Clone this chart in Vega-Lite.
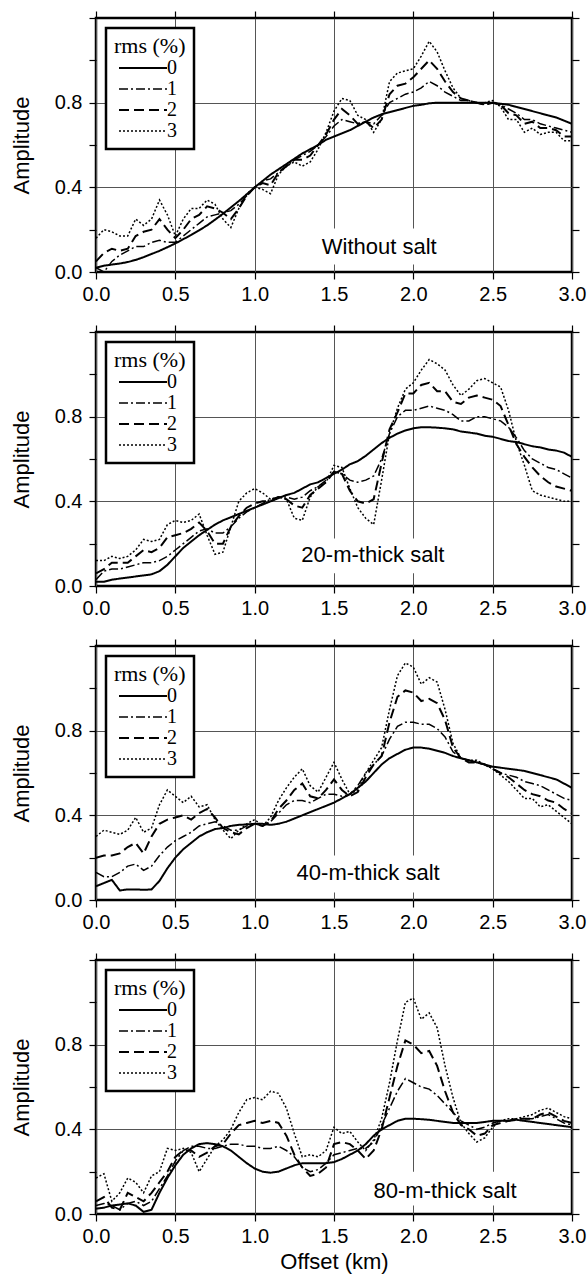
{
"$schema": "https://vega.github.io/schema/vega-lite/v6.json",
"padding": {"left": 8, "top": 6, "right": 0, "bottom": 2},
"background": "white",
"config": {
  "view": {"stroke": "black", "strokeWidth": 2.5},
  "font": "Liberation Sans",
  "axis": {"labelColor": "black", "titleColor": "black", "tickColor": "black", "labelFont": "Liberation Sans", "titleFont": "Liberation Sans", "titleFontWeight": "normal", "labelFontSize": 20, "titleFontSize": 22, "domain": false, "tickSize": 7, "tickWidth": 1.2},
  "legend": {"strokeColor": "black", "strokeWidth": 2.5, "fillColor": "white", "padding": 8, "titleFont": "Liberation Serif", "titleFontSize": 22, "titleFontWeight": "normal", "titleColor": "black", "labelFont": "Liberation Serif", "labelFontSize": 20, "labelColor": "black", "rowPadding": 1, "titlePadding": 0}
},
"data": {"values": [
{"p":"A","x":0,"r0":0.02,"r1":0.02,"r2":0.05,"r3":0.16},
{"p":"A","x":0.05,"r0":0.03,"r1":0.0,"r2":0.09,"r3":0.2},
{"p":"A","x":0.1,"r0":0.035,"r1":0.05,"r2":0.11,"r3":0.19},
{"p":"A","x":0.15,"r0":0.04,"r1":0.08,"r2":0.1,"r3":0.17},
{"p":"A","x":0.2,"r0":0.047,"r1":0.1,"r2":0.11,"r3":0.17},
{"p":"A","x":0.25,"r0":0.057,"r1":0.12,"r2":0.17,"r3":0.25},
{"p":"A","x":0.3,"r0":0.07,"r1":0.12,"r2":0.19,"r3":0.22},
{"p":"A","x":0.35,"r0":0.085,"r1":0.14,"r2":0.2,"r3":0.25},
{"p":"A","x":0.4,"r0":0.1,"r1":0.15,"r2":0.25,"r3":0.34},
{"p":"A","x":0.45,"r0":0.117,"r1":0.14,"r2":0.2,"r3":0.27},
{"p":"A","x":0.5,"r0":0.135,"r1":0.14,"r2":0.16,"r3":0.17},
{"p":"A","x":0.55,"r0":0.155,"r1":0.17,"r2":0.2,"r3":0.25},
{"p":"A","x":0.6,"r0":0.175,"r1":0.2,"r2":0.25,"r3":0.3},
{"p":"A","x":0.65,"r0":0.197,"r1":0.23,"r2":0.27,"r3":0.3},
{"p":"A","x":0.7,"r0":0.22,"r1":0.26,"r2":0.31,"r3":0.34},
{"p":"A","x":0.75,"r0":0.247,"r1":0.27,"r2":0.3,"r3":0.32},
{"p":"A","x":0.8,"r0":0.275,"r1":0.28,"r2":0.28,"r3":0.25},
{"p":"A","x":0.85,"r0":0.305,"r1":0.29,"r2":0.25,"r3":0.21},
{"p":"A","x":0.9,"r0":0.335,"r1":0.32,"r2":0.3,"r3":0.3},
{"p":"A","x":0.95,"r0":0.367,"r1":0.36,"r2":0.36,"r3":0.37},
{"p":"A","x":1.0,"r0":0.4,"r1":0.4,"r2":0.4,"r3":0.4},
{"p":"A","x":1.05,"r0":0.43,"r1":0.43,"r2":0.42,"r3":0.39},
{"p":"A","x":1.1,"r0":0.46,"r1":0.44,"r2":0.41,"r3":0.37},
{"p":"A","x":1.15,"r0":0.485,"r1":0.47,"r2":0.47,"r3":0.46},
{"p":"A","x":1.2,"r0":0.51,"r1":0.5,"r2":0.5,"r3":0.5},
{"p":"A","x":1.25,"r0":0.535,"r1":0.53,"r2":0.53,"r3":0.52},
{"p":"A","x":1.3,"r0":0.56,"r1":0.55,"r2":0.53,"r3":0.5},
{"p":"A","x":1.35,"r0":0.58,"r1":0.57,"r2":0.55,"r3":0.52},
{"p":"A","x":1.4,"r0":0.6,"r1":0.6,"r2":0.6,"r3":0.58},
{"p":"A","x":1.45,"r0":0.625,"r1":0.64,"r2":0.65,"r3":0.66},
{"p":"A","x":1.5,"r0":0.64,"r1":0.69,"r2":0.72,"r3":0.76},
{"p":"A","x":1.55,"r0":0.655,"r1":0.72,"r2":0.77,"r3":0.82},
{"p":"A","x":1.6,"r0":0.67,"r1":0.71,"r2":0.74,"r3":0.81},
{"p":"A","x":1.65,"r0":0.69,"r1":0.7,"r2":0.7,"r3":0.74},
{"p":"A","x":1.7,"r0":0.71,"r1":0.71,"r2":0.71,"r3":0.72},
{"p":"A","x":1.75,"r0":0.73,"r1":0.7,"r2":0.68,"r3":0.66},
{"p":"A","x":1.8,"r0":0.745,"r1":0.74,"r2":0.72,"r3":0.72},
{"p":"A","x":1.85,"r0":0.755,"r1":0.8,"r2":0.84,"r3":0.9},
{"p":"A","x":1.9,"r0":0.765,"r1":0.82,"r2":0.88,"r3":0.94},
{"p":"A","x":1.95,"r0":0.775,"r1":0.84,"r2":0.89,"r3":0.95},
{"p":"A","x":2.0,"r0":0.785,"r1":0.85,"r2":0.92,"r3":0.96},
{"p":"A","x":2.05,"r0":0.79,"r1":0.87,"r2":0.96,"r3":1.02},
{"p":"A","x":2.1,"r0":0.797,"r1":0.9,"r2":1.0,"r3":1.09},
{"p":"A","x":2.15,"r0":0.8,"r1":0.88,"r2":0.96,"r3":1.04},
{"p":"A","x":2.2,"r0":0.8,"r1":0.85,"r2":0.9,"r3":0.95},
{"p":"A","x":2.25,"r0":0.8,"r1":0.83,"r2":0.85,"r3":0.87},
{"p":"A","x":2.3,"r0":0.8,"r1":0.81,"r2":0.82,"r3":0.82},
{"p":"A","x":2.35,"r0":0.8,"r1":0.81,"r2":0.81,"r3":0.81},
{"p":"A","x":2.4,"r0":0.8,"r1":0.8,"r2":0.8,"r3":0.8},
{"p":"A","x":2.45,"r0":0.8,"r1":0.79,"r2":0.79,"r3":0.8},
{"p":"A","x":2.5,"r0":0.8,"r1":0.8,"r2":0.8,"r3":0.81},
{"p":"A","x":2.55,"r0":0.795,"r1":0.79,"r2":0.79,"r3":0.78},
{"p":"A","x":2.6,"r0":0.79,"r1":0.77,"r2":0.75,"r3":0.72},
{"p":"A","x":2.65,"r0":0.78,"r1":0.75,"r2":0.74,"r3":0.72},
{"p":"A","x":2.7,"r0":0.77,"r1":0.72,"r2":0.7,"r3":0.66},
{"p":"A","x":2.75,"r0":0.76,"r1":0.72,"r2":0.71,"r3":0.68},
{"p":"A","x":2.8,"r0":0.75,"r1":0.7,"r2":0.68,"r3":0.65},
{"p":"A","x":2.85,"r0":0.74,"r1":0.69,"r2":0.68,"r3":0.66},
{"p":"A","x":2.9,"r0":0.73,"r1":0.68,"r2":0.67,"r3":0.66},
{"p":"A","x":2.95,"r0":0.715,"r1":0.67,"r2":0.64,"r3":0.62},
{"p":"A","x":3.0,"r0":0.7,"r1":0.66,"r2":0.64,"r3":0.62},
{"p":"B","x":0,"r0":0.02,"r1":0.03,"r2":0.06,"r3":0.12},
{"p":"B","x":0.05,"r0":0.02,"r1":0.07,"r2":0.08,"r3":0.12},
{"p":"B","x":0.1,"r0":0.03,"r1":0.08,"r2":0.11,"r3":0.14},
{"p":"B","x":0.15,"r0":0.035,"r1":0.08,"r2":0.11,"r3":0.13},
{"p":"B","x":0.2,"r0":0.04,"r1":0.09,"r2":0.11,"r3":0.14},
{"p":"B","x":0.25,"r0":0.045,"r1":0.1,"r2":0.14,"r3":0.17},
{"p":"B","x":0.3,"r0":0.05,"r1":0.11,"r2":0.17,"r3":0.22},
{"p":"B","x":0.35,"r0":0.055,"r1":0.11,"r2":0.16,"r3":0.21},
{"p":"B","x":0.4,"r0":0.07,"r1":0.12,"r2":0.18,"r3":0.22},
{"p":"B","x":0.45,"r0":0.1,"r1":0.14,"r2":0.23,"r3":0.29},
{"p":"B","x":0.5,"r0":0.14,"r1":0.17,"r2":0.24,"r3":0.31},
{"p":"B","x":0.55,"r0":0.18,"r1":0.2,"r2":0.25,"r3":0.3},
{"p":"B","x":0.6,"r0":0.21,"r1":0.23,"r2":0.27,"r3":0.31},
{"p":"B","x":0.65,"r0":0.24,"r1":0.26,"r2":0.3,"r3":0.34},
{"p":"B","x":0.7,"r0":0.265,"r1":0.27,"r2":0.26,"r3":0.24},
{"p":"B","x":0.75,"r0":0.29,"r1":0.25,"r2":0.2,"r3":0.15},
{"p":"B","x":0.8,"r0":0.31,"r1":0.25,"r2":0.2,"r3":0.16},
{"p":"B","x":0.85,"r0":0.325,"r1":0.28,"r2":0.28,"r3":0.28},
{"p":"B","x":0.9,"r0":0.34,"r1":0.32,"r2":0.33,"r3":0.4},
{"p":"B","x":0.95,"r0":0.355,"r1":0.35,"r2":0.37,"r3":0.44},
{"p":"B","x":1.0,"r0":0.37,"r1":0.37,"r2":0.39,"r3":0.46},
{"p":"B","x":1.05,"r0":0.385,"r1":0.39,"r2":0.4,"r3":0.44},
{"p":"B","x":1.1,"r0":0.4,"r1":0.41,"r2":0.4,"r3":0.41},
{"p":"B","x":1.15,"r0":0.415,"r1":0.42,"r2":0.42,"r3":0.42},
{"p":"B","x":1.2,"r0":0.43,"r1":0.42,"r2":0.41,"r3":0.41},
{"p":"B","x":1.25,"r0":0.44,"r1":0.41,"r2":0.38,"r3":0.32},
{"p":"B","x":1.3,"r0":0.46,"r1":0.42,"r2":0.37,"r3":0.31},
{"p":"B","x":1.35,"r0":0.48,"r1":0.45,"r2":0.43,"r3":0.42},
{"p":"B","x":1.4,"r0":0.49,"r1":0.47,"r2":0.46,"r3":0.47},
{"p":"B","x":1.45,"r0":0.51,"r1":0.5,"r2":0.49,"r3":0.49},
{"p":"B","x":1.5,"r0":0.53,"r1":0.54,"r2":0.54,"r3":0.57},
{"p":"B","x":1.55,"r0":0.55,"r1":0.53,"r2":0.53,"r3":0.56},
{"p":"B","x":1.6,"r0":0.575,"r1":0.5,"r2":0.45,"r3":0.46},
{"p":"B","x":1.65,"r0":0.59,"r1":0.49,"r2":0.4,"r3":0.37},
{"p":"B","x":1.7,"r0":0.615,"r1":0.5,"r2":0.39,"r3":0.32},
{"p":"B","x":1.75,"r0":0.645,"r1":0.52,"r2":0.41,"r3":0.29},
{"p":"B","x":1.8,"r0":0.675,"r1":0.6,"r2":0.58,"r3":0.5},
{"p":"B","x":1.85,"r0":0.7,"r1":0.72,"r2":0.74,"r3":0.72},
{"p":"B","x":1.9,"r0":0.72,"r1":0.8,"r2":0.82,"r3":0.84},
{"p":"B","x":1.95,"r0":0.735,"r1":0.83,"r2":0.91,"r3":0.93},
{"p":"B","x":2.0,"r0":0.745,"r1":0.83,"r2":0.91,"r3":0.96},
{"p":"B","x":2.05,"r0":0.75,"r1":0.84,"r2":0.95,"r3":1.02},
{"p":"B","x":2.1,"r0":0.75,"r1":0.85,"r2":0.96,"r3":1.07},
{"p":"B","x":2.15,"r0":0.748,"r1":0.84,"r2":0.92,"r3":1.05},
{"p":"B","x":2.2,"r0":0.745,"r1":0.83,"r2":0.92,"r3":1.02},
{"p":"B","x":2.25,"r0":0.74,"r1":0.81,"r2":0.87,"r3":0.95},
{"p":"B","x":2.3,"r0":0.73,"r1":0.78,"r2":0.86,"r3":0.9},
{"p":"B","x":2.35,"r0":0.725,"r1":0.78,"r2":0.89,"r3":0.93},
{"p":"B","x":2.4,"r0":0.72,"r1":0.8,"r2":0.9,"r3":0.97},
{"p":"B","x":2.45,"r0":0.71,"r1":0.8,"r2":0.89,"r3":0.98},
{"p":"B","x":2.5,"r0":0.705,"r1":0.79,"r2":0.88,"r3":0.96},
{"p":"B","x":2.55,"r0":0.695,"r1":0.78,"r2":0.85,"r3":0.94},
{"p":"B","x":2.6,"r0":0.685,"r1":0.75,"r2":0.76,"r3":0.83},
{"p":"B","x":2.65,"r0":0.68,"r1":0.7,"r2":0.67,"r3":0.68},
{"p":"B","x":2.7,"r0":0.67,"r1":0.64,"r2":0.61,"r3":0.57},
{"p":"B","x":2.75,"r0":0.66,"r1":0.6,"r2":0.56,"r3":0.45},
{"p":"B","x":2.8,"r0":0.655,"r1":0.58,"r2":0.52,"r3":0.43},
{"p":"B","x":2.85,"r0":0.645,"r1":0.56,"r2":0.49,"r3":0.42},
{"p":"B","x":2.9,"r0":0.64,"r1":0.55,"r2":0.47,"r3":0.41},
{"p":"B","x":2.95,"r0":0.63,"r1":0.53,"r2":0.46,"r3":0.4},
{"p":"B","x":3.0,"r0":0.61,"r1":0.51,"r2":0.45,"r3":0.4},
{"p":"C","x":0,"r0":0.065,"r1":0.13,"r2":0.2,"r3":0.3},
{"p":"C","x":0.05,"r0":0.08,"r1":0.11,"r2":0.21,"r3":0.33},
{"p":"C","x":0.1,"r0":0.095,"r1":0.11,"r2":0.21,"r3":0.32},
{"p":"C","x":0.15,"r0":0.045,"r1":0.13,"r2":0.22,"r3":0.31},
{"p":"C","x":0.2,"r0":0.05,"r1":0.16,"r2":0.25,"r3":0.33},
{"p":"C","x":0.25,"r0":0.05,"r1":0.17,"r2":0.27,"r3":0.39},
{"p":"C","x":0.3,"r0":0.048,"r1":0.14,"r2":0.22,"r3":0.32},
{"p":"C","x":0.35,"r0":0.05,"r1":0.16,"r2":0.3,"r3":0.34},
{"p":"C","x":0.4,"r0":0.09,"r1":0.21,"r2":0.36,"r3":0.45},
{"p":"C","x":0.45,"r0":0.15,"r1":0.25,"r2":0.38,"r3":0.52},
{"p":"C","x":0.5,"r0":0.2,"r1":0.28,"r2":0.39,"r3":0.49},
{"p":"C","x":0.55,"r0":0.24,"r1":0.3,"r2":0.4,"r3":0.46},
{"p":"C","x":0.6,"r0":0.27,"r1":0.32,"r2":0.38,"r3":0.49},
{"p":"C","x":0.65,"r0":0.3,"r1":0.35,"r2":0.41,"r3":0.44},
{"p":"C","x":0.7,"r0":0.32,"r1":0.36,"r2":0.43,"r3":0.45},
{"p":"C","x":0.75,"r0":0.335,"r1":0.37,"r2":0.39,"r3":0.38},
{"p":"C","x":0.8,"r0":0.34,"r1":0.35,"r2":0.34,"r3":0.33},
{"p":"C","x":0.85,"r0":0.35,"r1":0.33,"r2":0.32,"r3":0.29},
{"p":"C","x":0.9,"r0":0.355,"r1":0.33,"r2":0.31,"r3":0.33},
{"p":"C","x":0.95,"r0":0.357,"r1":0.35,"r2":0.34,"r3":0.36},
{"p":"C","x":1.0,"r0":0.36,"r1":0.36,"r2":0.36,"r3":0.38},
{"p":"C","x":1.05,"r0":0.36,"r1":0.35,"r2":0.35,"r3":0.35},
{"p":"C","x":1.1,"r0":0.355,"r1":0.37,"r2":0.37,"r3":0.39},
{"p":"C","x":1.15,"r0":0.36,"r1":0.41,"r2":0.43,"r3":0.47},
{"p":"C","x":1.2,"r0":0.37,"r1":0.45,"r2":0.47,"r3":0.53},
{"p":"C","x":1.25,"r0":0.385,"r1":0.47,"r2":0.52,"r3":0.58},
{"p":"C","x":1.3,"r0":0.4,"r1":0.47,"r2":0.55,"r3":0.62},
{"p":"C","x":1.35,"r0":0.415,"r1":0.46,"r2":0.49,"r3":0.54},
{"p":"C","x":1.4,"r0":0.43,"r1":0.48,"r2":0.48,"r3":0.51},
{"p":"C","x":1.45,"r0":0.445,"r1":0.5,"r2":0.52,"r3":0.58},
{"p":"C","x":1.5,"r0":0.46,"r1":0.5,"r2":0.57,"r3":0.65},
{"p":"C","x":1.55,"r0":0.48,"r1":0.49,"r2":0.52,"r3":0.57},
{"p":"C","x":1.6,"r0":0.5,"r1":0.5,"r2":0.49,"r3":0.5},
{"p":"C","x":1.65,"r0":0.53,"r1":0.54,"r2":0.51,"r3":0.52},
{"p":"C","x":1.7,"r0":0.56,"r1":0.6,"r2":0.58,"r3":0.6},
{"p":"C","x":1.75,"r0":0.6,"r1":0.64,"r2":0.64,"r3":0.66},
{"p":"C","x":1.8,"r0":0.64,"r1":0.68,"r2":0.68,"r3":0.72},
{"p":"C","x":1.85,"r0":0.67,"r1":0.76,"r2":0.84,"r3":0.9},
{"p":"C","x":1.9,"r0":0.69,"r1":0.82,"r2":0.96,"r3":1.06},
{"p":"C","x":1.95,"r0":0.71,"r1":0.84,"r2":0.99,"r3":1.12},
{"p":"C","x":2.0,"r0":0.72,"r1":0.84,"r2":0.98,"r3":1.1},
{"p":"C","x":2.05,"r0":0.72,"r1":0.83,"r2":0.94,"r3":1.02},
{"p":"C","x":2.1,"r0":0.715,"r1":0.83,"r2":0.95,"r3":1.05},
{"p":"C","x":2.15,"r0":0.705,"r1":0.81,"r2":0.93,"r3":1.03},
{"p":"C","x":2.2,"r0":0.695,"r1":0.77,"r2":0.85,"r3":0.9},
{"p":"C","x":2.25,"r0":0.68,"r1":0.7,"r2":0.72,"r3":0.74},
{"p":"C","x":2.3,"r0":0.67,"r1":0.67,"r2":0.67,"r3":0.67},
{"p":"C","x":2.35,"r0":0.66,"r1":0.66,"r2":0.65,"r3":0.66},
{"p":"C","x":2.4,"r0":0.65,"r1":0.65,"r2":0.65,"r3":0.66},
{"p":"C","x":2.45,"r0":0.64,"r1":0.64,"r2":0.64,"r3":0.64},
{"p":"C","x":2.5,"r0":0.63,"r1":0.62,"r2":0.62,"r3":0.62},
{"p":"C","x":2.55,"r0":0.625,"r1":0.6,"r2":0.6,"r3":0.59},
{"p":"C","x":2.6,"r0":0.62,"r1":0.59,"r2":0.58,"r3":0.56},
{"p":"C","x":2.65,"r0":0.615,"r1":0.58,"r2":0.55,"r3":0.52},
{"p":"C","x":2.7,"r0":0.61,"r1":0.56,"r2":0.52,"r3":0.48},
{"p":"C","x":2.75,"r0":0.6,"r1":0.55,"r2":0.5,"r3":0.48},
{"p":"C","x":2.8,"r0":0.59,"r1":0.54,"r2":0.49,"r3":0.44},
{"p":"C","x":2.85,"r0":0.58,"r1":0.52,"r2":0.47,"r3":0.45},
{"p":"C","x":2.9,"r0":0.57,"r1":0.5,"r2":0.46,"r3":0.42},
{"p":"C","x":2.95,"r0":0.55,"r1":0.48,"r2":0.43,"r3":0.39},
{"p":"C","x":3.0,"r0":0.53,"r1":0.47,"r2":0.41,"r3":0.36},
{"p":"D","x":0,"r0":0.025,"r1":0.04,"r2":0.06,"r3":0.17},
{"p":"D","x":0.05,"r0":0.03,"r1":0.05,"r2":0.08,"r3":0.19},
{"p":"D","x":0.1,"r0":0.04,"r1":0.04,"r2":0.03,"r3":0.06},
{"p":"D","x":0.15,"r0":0.045,"r1":0.02,"r2":0.02,"r3":0.1},
{"p":"D","x":0.2,"r0":0.05,"r1":0.05,"r2":0.1,"r3":0.17},
{"p":"D","x":0.25,"r0":0.04,"r1":0.06,"r2":0.08,"r3":0.15},
{"p":"D","x":0.3,"r0":0.01,"r1":0.04,"r2":0.06,"r3":0.1},
{"p":"D","x":0.35,"r0":0.02,"r1":0.06,"r2":0.1,"r3":0.18},
{"p":"D","x":0.4,"r0":0.1,"r1":0.12,"r2":0.15,"r3":0.2},
{"p":"D","x":0.45,"r0":0.17,"r1":0.18,"r2":0.2,"r3":0.31},
{"p":"D","x":0.5,"r0":0.23,"r1":0.25,"r2":0.27,"r3":0.3},
{"p":"D","x":0.55,"r0":0.28,"r1":0.3,"r2":0.3,"r3":0.31},
{"p":"D","x":0.6,"r0":0.31,"r1":0.32,"r2":0.3,"r3":0.29},
{"p":"D","x":0.65,"r0":0.33,"r1":0.32,"r2":0.27,"r3":0.2},
{"p":"D","x":0.7,"r0":0.335,"r1":0.31,"r2":0.29,"r3":0.26},
{"p":"D","x":0.75,"r0":0.33,"r1":0.31,"r2":0.32,"r3":0.32},
{"p":"D","x":0.8,"r0":0.32,"r1":0.32,"r2":0.33,"r3":0.35},
{"p":"D","x":0.85,"r0":0.3,"r1":0.33,"r2":0.38,"r3":0.4},
{"p":"D","x":0.9,"r0":0.27,"r1":0.33,"r2":0.42,"r3":0.48},
{"p":"D","x":0.95,"r0":0.24,"r1":0.32,"r2":0.43,"r3":0.54},
{"p":"D","x":1.0,"r0":0.215,"r1":0.32,"r2":0.44,"r3":0.55},
{"p":"D","x":1.05,"r0":0.2,"r1":0.31,"r2":0.43,"r3":0.54},
{"p":"D","x":1.1,"r0":0.195,"r1":0.31,"r2":0.44,"r3":0.58},
{"p":"D","x":1.15,"r0":0.2,"r1":0.32,"r2":0.43,"r3":0.57},
{"p":"D","x":1.2,"r0":0.215,"r1":0.3,"r2":0.37,"r3":0.5},
{"p":"D","x":1.25,"r0":0.23,"r1":0.27,"r2":0.28,"r3":0.38},
{"p":"D","x":1.3,"r0":0.24,"r1":0.22,"r2":0.22,"r3":0.27},
{"p":"D","x":1.35,"r0":0.24,"r1":0.2,"r2":0.18,"r3":0.28},
{"p":"D","x":1.4,"r0":0.24,"r1":0.21,"r2":0.19,"r3":0.27},
{"p":"D","x":1.45,"r0":0.24,"r1":0.24,"r2":0.22,"r3":0.3},
{"p":"D","x":1.5,"r0":0.245,"r1":0.28,"r2":0.33,"r3":0.41},
{"p":"D","x":1.55,"r0":0.26,"r1":0.29,"r2":0.34,"r3":0.38},
{"p":"D","x":1.6,"r0":0.28,"r1":0.3,"r2":0.33,"r3":0.39},
{"p":"D","x":1.65,"r0":0.3,"r1":0.31,"r2":0.3,"r3":0.34},
{"p":"D","x":1.7,"r0":0.33,"r1":0.31,"r2":0.26,"r3":0.3},
{"p":"D","x":1.75,"r0":0.37,"r1":0.34,"r2":0.3,"r3":0.35},
{"p":"D","x":1.8,"r0":0.4,"r1":0.42,"r2":0.4,"r3":0.45},
{"p":"D","x":1.85,"r0":0.42,"r1":0.5,"r2":0.55,"r3":0.62},
{"p":"D","x":1.9,"r0":0.44,"r1":0.58,"r2":0.7,"r3":0.82},
{"p":"D","x":1.95,"r0":0.45,"r1":0.64,"r2":0.82,"r3":1.0},
{"p":"D","x":2.0,"r0":0.45,"r1":0.62,"r2":0.8,"r3":1.02},
{"p":"D","x":2.05,"r0":0.448,"r1":0.6,"r2":0.76,"r3":0.92},
{"p":"D","x":2.1,"r0":0.445,"r1":0.59,"r2":0.77,"r3":0.95},
{"p":"D","x":2.15,"r0":0.44,"r1":0.56,"r2":0.7,"r3":0.88},
{"p":"D","x":2.2,"r0":0.435,"r1":0.52,"r2":0.58,"r3":0.7},
{"p":"D","x":2.25,"r0":0.43,"r1":0.48,"r2":0.48,"r3":0.55},
{"p":"D","x":2.3,"r0":0.43,"r1":0.44,"r2":0.42,"r3":0.43},
{"p":"D","x":2.35,"r0":0.43,"r1":0.42,"r2":0.4,"r3":0.38},
{"p":"D","x":2.4,"r0":0.43,"r1":0.4,"r2":0.37,"r3":0.34},
{"p":"D","x":2.45,"r0":0.435,"r1":0.41,"r2":0.38,"r3":0.36},
{"p":"D","x":2.5,"r0":0.44,"r1":0.43,"r2":0.42,"r3":0.41},
{"p":"D","x":2.55,"r0":0.44,"r1":0.44,"r2":0.43,"r3":0.44},
{"p":"D","x":2.6,"r0":0.44,"r1":0.44,"r2":0.44,"r3":0.45},
{"p":"D","x":2.65,"r0":0.445,"r1":0.45,"r2":0.45,"r3":0.45},
{"p":"D","x":2.7,"r0":0.44,"r1":0.45,"r2":0.45,"r3":0.46},
{"p":"D","x":2.75,"r0":0.435,"r1":0.45,"r2":0.45,"r3":0.47},
{"p":"D","x":2.8,"r0":0.43,"r1":0.46,"r2":0.47,"r3":0.49},
{"p":"D","x":2.85,"r0":0.425,"r1":0.47,"r2":0.48,"r3":0.5},
{"p":"D","x":2.9,"r0":0.42,"r1":0.45,"r2":0.46,"r3":0.48},
{"p":"D","x":2.95,"r0":0.415,"r1":0.43,"r2":0.44,"r3":0.46},
{"p":"D","x":3.0,"r0":0.41,"r1":0.42,"r2":0.43,"r3":0.45}
]},
"spacing": 60,
"bounds": "flush",
"resolve": {"scale": {"strokeDash": "independent", "strokeWidth": "independent"}, "legend": {"strokeDash": "independent", "strokeWidth": "independent"}},
"vconcat": [
 {"width": 476, "height": 254,
  "layer": [
   {"data": {"values": [{"box": "label background"}]},
    "mark": {"type": "rect", "fill": "white", "stroke": null},
    "encoding": {"x": {"datum": 1.37, "type": "quantitative", "axis": null}, "x2": {"datum": 2.2}, "y": {"datum": 0.035, "type": "quantitative", "axis": null}, "y2": {"datum": 0.205}}},
   {"transform": [{"filter": "datum.p == 'A'"}, {"fold": ["r0","r1","r2","r3"], "as": ["rms","amp"]}],
    "mark": {"type": "line", "color": "black", "clip": true},
    "encoding": {
     "x": {"field": "x", "type": "quantitative", "scale": {"domain": [0,3], "nice": false}, "axis": {"orient": "bottom", "values": [0,0.5,1,1.5,2,2.5,3], "format": ".1f", "grid": true, "gridColor": "#555", "gridWidth": 1, "labelPadding": 5, "labelFlush": false, "labelOverlap": false, "title": null}},
     "y": {"field": "amp", "type": "quantitative", "scale": {"domain": [0,1.2], "nice": false}, "axis": {"orient": "left", "values": [0,0.2,0.4,0.6,0.8,1,1.2], "labelExpr": "datum.value == 0 || datum.value == 0.4 || datum.value == 0.8 ? format(datum.value, '.1f') : ''", "grid": true, "gridColor": "#555", "gridOpacity": {"condition": {"test": "datum.value == 0.4 || datum.value == 0.8", "value": 1}, "value": 0}, "labelPadding": 7, "labelFlush": false, "labelOverlap": false, "title": "Amplitude", "titlePadding": 21}},
     "strokeDash": {"field": "rms", "type": "nominal", "scale": {"domain": ["r0","r1","r2","r3"], "range": [[1,0],[9,3,2,3],[10,5],[2,2]]}, "legend": {"title": "rms (%)", "orient": "top-left", "offset": 10, "labelExpr": "replace(datum.label, 'r', '')", "symbolType": "M-4,0H4", "symbolSize": 144, "symbolOffset": 19, "labelOffset": 14, "symbolStrokeColor": "black"}},
     "strokeWidth": {"field": "rms", "type": "nominal", "scale": {"type": "ordinal", "domain": ["r0","r1","r2","r3"], "range": [2,1.5,2,1.5]}, "legend": {"title": "rms (%)", "orient": "top-left", "offset": 10, "labelExpr": "replace(datum.label, 'r', '')", "symbolType": "M-4,0H4", "symbolSize": 144, "symbolOffset": 19, "labelOffset": 14, "symbolStrokeColor": "black"}}
    }},
   {"data": {"values": [{"label": "Without salt"}]},
    "mark": {"type": "text", "fontSize": 22, "align": "center", "baseline": "alphabetic", "color": "black"},
    "encoding": {
     "x": {"datum": 1.785, "type": "quantitative", "axis": {"orient": "top", "values": [0,0.5,1,1.5,2,2.5,3], "labels": false, "grid": false, "title": null}},
     "y": {"datum": 0.087, "type": "quantitative", "axis": {"orient": "right", "values": [0,0.2,0.4,0.6,0.8,1,1.2], "labels": false, "grid": false, "title": null}},
     "text": {"field": "label"}}}
  ],
  "resolve": {"axis": {"x": "independent", "y": "independent"}}
 },
 {"width": 476, "height": 254,
  "layer": [
   {"data": {"values": [{"box": "label background"}]},
    "mark": {"type": "rect", "fill": "white", "stroke": null},
    "encoding": {"x": {"datum": 1.27, "type": "quantitative", "axis": null}, "x2": {"datum": 2.22}, "y": {"datum": 0.06, "type": "quantitative", "axis": null}, "y2": {"datum": 0.225}}},
   {"transform": [{"filter": "datum.p == 'B'"}, {"fold": ["r0","r1","r2","r3"], "as": ["rms","amp"]}],
    "mark": {"type": "line", "color": "black", "clip": true},
    "encoding": {
     "x": {"field": "x", "type": "quantitative", "scale": {"domain": [0,3], "nice": false}, "axis": {"orient": "bottom", "values": [0,0.5,1,1.5,2,2.5,3], "format": ".1f", "grid": true, "gridColor": "#555", "gridWidth": 1, "labelPadding": 5, "labelFlush": false, "labelOverlap": false, "title": null}},
     "y": {"field": "amp", "type": "quantitative", "scale": {"domain": [0,1.2], "nice": false}, "axis": {"orient": "left", "values": [0,0.2,0.4,0.6,0.8,1,1.2], "labelExpr": "datum.value == 0 || datum.value == 0.4 || datum.value == 0.8 ? format(datum.value, '.1f') : ''", "grid": true, "gridColor": "#555", "gridOpacity": {"condition": {"test": "datum.value == 0.4 || datum.value == 0.8", "value": 1}, "value": 0}, "labelPadding": 7, "labelFlush": false, "labelOverlap": false, "title": "Amplitude", "titlePadding": 21}},
     "strokeDash": {"field": "rms", "type": "nominal", "scale": {"domain": ["r0","r1","r2","r3"], "range": [[1,0],[9,3,2,3],[10,5],[2,2]]}, "legend": {"title": "rms (%)", "orient": "top-left", "offset": 10, "labelExpr": "replace(datum.label, 'r', '')", "symbolType": "M-4,0H4", "symbolSize": 144, "symbolOffset": 19, "labelOffset": 14, "symbolStrokeColor": "black"}},
     "strokeWidth": {"field": "rms", "type": "nominal", "scale": {"type": "ordinal", "domain": ["r0","r1","r2","r3"], "range": [2,1.5,2,1.5]}, "legend": {"title": "rms (%)", "orient": "top-left", "offset": 10, "labelExpr": "replace(datum.label, 'r', '')", "symbolType": "M-4,0H4", "symbolSize": 144, "symbolOffset": 19, "labelOffset": 14, "symbolStrokeColor": "black"}}
    }},
   {"data": {"values": [{"label": "20-m-thick salt"}]},
    "mark": {"type": "text", "fontSize": 22, "align": "center", "baseline": "alphabetic", "color": "black"},
    "encoding": {
     "x": {"datum": 1.745, "type": "quantitative", "axis": {"orient": "top", "values": [0,0.5,1,1.5,2,2.5,3], "labels": false, "grid": false, "title": null}},
     "y": {"datum": 0.112, "type": "quantitative", "axis": {"orient": "right", "values": [0,0.2,0.4,0.6,0.8,1,1.2], "labels": false, "grid": false, "title": null}},
     "text": {"field": "label"}}}
  ],
  "resolve": {"axis": {"x": "independent", "y": "independent"}}
 },
 {"width": 476, "height": 254,
  "layer": [
   {"data": {"values": [{"box": "label background"}]},
    "mark": {"type": "rect", "fill": "white", "stroke": null},
    "encoding": {"x": {"datum": 1.24, "type": "quantitative", "axis": null}, "x2": {"datum": 2.19}, "y": {"datum": 0.035, "type": "quantitative", "axis": null}, "y2": {"datum": 0.21}}},
   {"transform": [{"filter": "datum.p == 'C'"}, {"fold": ["r0","r1","r2","r3"], "as": ["rms","amp"]}],
    "mark": {"type": "line", "color": "black", "clip": true},
    "encoding": {
     "x": {"field": "x", "type": "quantitative", "scale": {"domain": [0,3], "nice": false}, "axis": {"orient": "bottom", "values": [0,0.5,1,1.5,2,2.5,3], "format": ".1f", "grid": true, "gridColor": "#555", "gridWidth": 1, "labelPadding": 5, "labelFlush": false, "labelOverlap": false, "title": null}},
     "y": {"field": "amp", "type": "quantitative", "scale": {"domain": [0,1.2], "nice": false}, "axis": {"orient": "left", "values": [0,0.2,0.4,0.6,0.8,1,1.2], "labelExpr": "datum.value == 0 || datum.value == 0.4 || datum.value == 0.8 ? format(datum.value, '.1f') : ''", "grid": true, "gridColor": "#555", "gridOpacity": {"condition": {"test": "datum.value == 0.4 || datum.value == 0.8", "value": 1}, "value": 0}, "labelPadding": 7, "labelFlush": false, "labelOverlap": false, "title": "Amplitude", "titlePadding": 21}},
     "strokeDash": {"field": "rms", "type": "nominal", "scale": {"domain": ["r0","r1","r2","r3"], "range": [[1,0],[9,3,2,3],[10,5],[2,2]]}, "legend": {"title": "rms (%)", "orient": "top-left", "offset": 10, "labelExpr": "replace(datum.label, 'r', '')", "symbolType": "M-4,0H4", "symbolSize": 144, "symbolOffset": 19, "labelOffset": 14, "symbolStrokeColor": "black"}},
     "strokeWidth": {"field": "rms", "type": "nominal", "scale": {"type": "ordinal", "domain": ["r0","r1","r2","r3"], "range": [2,1.5,2,1.5]}, "legend": {"title": "rms (%)", "orient": "top-left", "offset": 10, "labelExpr": "replace(datum.label, 'r', '')", "symbolType": "M-4,0H4", "symbolSize": 144, "symbolOffset": 19, "labelOffset": 14, "symbolStrokeColor": "black"}}
    }},
   {"data": {"values": [{"label": "40-m-thick salt"}]},
    "mark": {"type": "text", "fontSize": 22, "align": "center", "baseline": "alphabetic", "color": "black"},
    "encoding": {
     "x": {"datum": 1.715, "type": "quantitative", "axis": {"orient": "top", "values": [0,0.5,1,1.5,2,2.5,3], "labels": false, "grid": false, "title": null}},
     "y": {"datum": 0.094, "type": "quantitative", "axis": {"orient": "right", "values": [0,0.2,0.4,0.6,0.8,1,1.2], "labels": false, "grid": false, "title": null}},
     "text": {"field": "label"}}}
  ],
  "resolve": {"axis": {"x": "independent", "y": "independent"}}
 },
 {"width": 476, "height": 254,
  "layer": [
   {"data": {"values": [{"box": "label background"}]},
    "mark": {"type": "rect", "fill": "white", "stroke": null},
    "encoding": {"x": {"datum": 1.73, "type": "quantitative", "axis": null}, "x2": {"datum": 2.68}, "y": {"datum": 0.04, "type": "quantitative", "axis": null}, "y2": {"datum": 0.2}}},
   {"transform": [{"filter": "datum.p == 'D'"}, {"fold": ["r0","r1","r2","r3"], "as": ["rms","amp"]}],
    "mark": {"type": "line", "color": "black", "clip": true},
    "encoding": {
     "x": {"field": "x", "type": "quantitative", "scale": {"domain": [0,3], "nice": false}, "axis": {"orient": "bottom", "values": [0,0.5,1,1.5,2,2.5,3], "format": ".1f", "grid": true, "gridColor": "#555", "gridWidth": 1, "labelPadding": 5, "labelFlush": false, "labelOverlap": false, "title": "Offset (km)", "titlePadding": 5}},
     "y": {"field": "amp", "type": "quantitative", "scale": {"domain": [0,1.2], "nice": false}, "axis": {"orient": "left", "values": [0,0.2,0.4,0.6,0.8,1,1.2], "labelExpr": "datum.value == 0 || datum.value == 0.4 || datum.value == 0.8 ? format(datum.value, '.1f') : ''", "grid": true, "gridColor": "#555", "gridOpacity": {"condition": {"test": "datum.value == 0.4 || datum.value == 0.8", "value": 1}, "value": 0}, "labelPadding": 7, "labelFlush": false, "labelOverlap": false, "title": "Amplitude", "titlePadding": 21}},
     "strokeDash": {"field": "rms", "type": "nominal", "scale": {"domain": ["r0","r1","r2","r3"], "range": [[1,0],[9,3,2,3],[10,5],[2,2]]}, "legend": {"title": "rms (%)", "orient": "top-left", "offset": 10, "labelExpr": "replace(datum.label, 'r', '')", "symbolType": "M-4,0H4", "symbolSize": 144, "symbolOffset": 19, "labelOffset": 14, "symbolStrokeColor": "black"}},
     "strokeWidth": {"field": "rms", "type": "nominal", "scale": {"type": "ordinal", "domain": ["r0","r1","r2","r3"], "range": [2,1.5,2,1.5]}, "legend": {"title": "rms (%)", "orient": "top-left", "offset": 10, "labelExpr": "replace(datum.label, 'r', '')", "symbolType": "M-4,0H4", "symbolSize": 144, "symbolOffset": 19, "labelOffset": 14, "symbolStrokeColor": "black"}}
    }},
   {"data": {"values": [{"label": "80-m-thick salt"}]},
    "mark": {"type": "text", "fontSize": 22, "align": "center", "baseline": "alphabetic", "color": "black"},
    "encoding": {
     "x": {"datum": 2.2, "type": "quantitative", "axis": {"orient": "top", "values": [0,0.5,1,1.5,2,2.5,3], "labels": false, "grid": false, "title": null}},
     "y": {"datum": 0.076, "type": "quantitative", "axis": {"orient": "right", "values": [0,0.2,0.4,0.6,0.8,1,1.2], "labels": false, "grid": false, "title": null}},
     "text": {"field": "label"}}}
  ],
  "resolve": {"axis": {"x": "independent", "y": "independent"}}
 }
]
}
